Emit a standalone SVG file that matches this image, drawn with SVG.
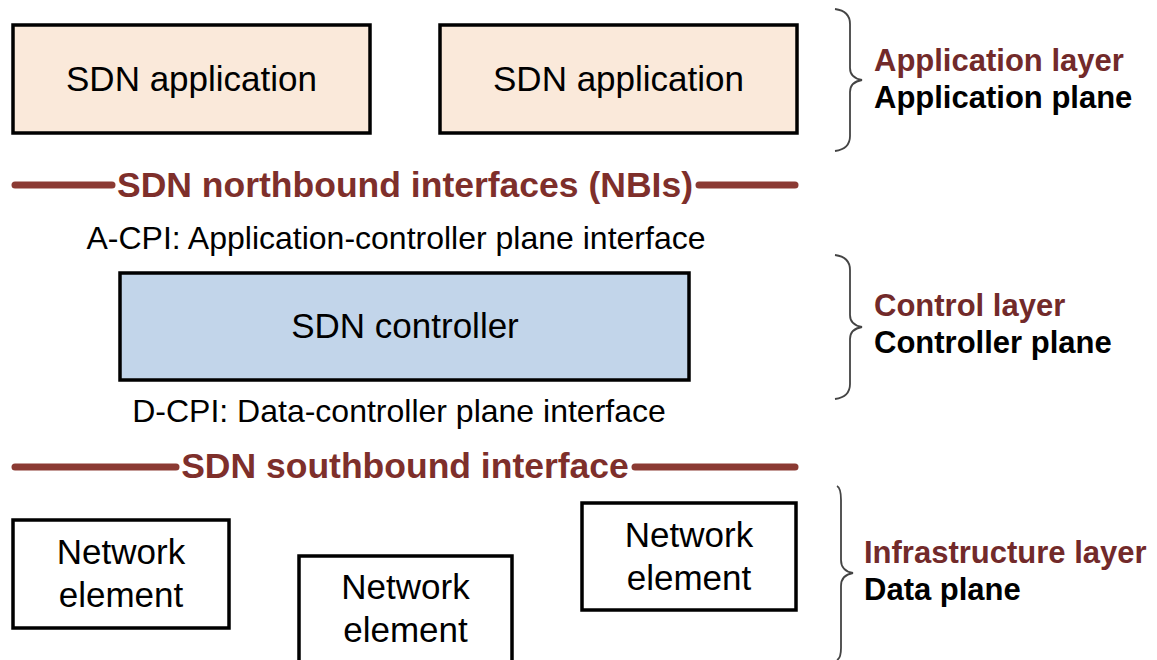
<svg xmlns="http://www.w3.org/2000/svg" width="1157" height="660" viewBox="0 0 1157 660">
<style>
.box{stroke:#000;stroke-width:3.5}
.app{fill:#FAE9DA}
.ctl{fill:#C2D5EA}
.ne{fill:#fff}
.t{font-family:"Liberation Sans",Arial,sans-serif;font-size:35px;fill:#000;text-anchor:middle}
.s{font-family:"Liberation Sans",Arial,sans-serif;font-size:32px;fill:#000;text-anchor:middle}
.bar{stroke:#8B3A33;stroke-width:7;stroke-linecap:round}
.bt{font-family:"Liberation Sans",Arial,sans-serif;font-size:35.5px;font-weight:bold;fill:#7E2F2B;text-anchor:middle}
.lay{font-family:"Liberation Sans",Arial,sans-serif;font-size:31px;font-weight:bold;fill:#722A2A}
.pl{font-family:"Liberation Sans",Arial,sans-serif;font-size:31px;font-weight:bold;fill:#000}
.brace{fill:none;stroke:#444;stroke-width:1.8}
</style>
<rect width="1157" height="660" fill="#fff"/>
<g id="app1"><rect class="box app" x="13" y="25" width="357" height="108"/><text class="t" x="191.5" y="91">SDN application</text></g>
<g id="app2"><rect class="box app" x="440" y="25" width="357" height="108"/><text class="t" x="618.5" y="91">SDN application</text></g>
<g id="nbi"><line class="bar" x1="15" y1="185" x2="112" y2="185"/><line class="bar" x1="699" y1="185" x2="795" y2="185"/><text class="bt" x="405" y="197">SDN northbound interfaces (NBIs)</text></g>
<g id="acpi"><text class="s" x="396" y="249">A-CPI: Application-controller plane interface</text></g>
<g id="controller"><rect class="box ctl" x="120" y="273" width="569" height="107"/><text class="t" x="405" y="338">SDN controller</text></g>
<g id="dcpi"><text class="s" x="399" y="422">D-CPI: Data-controller plane interface</text></g>
<g id="sbi"><line class="bar" x1="15" y1="467" x2="176" y2="467"/><line class="bar" x1="635" y1="467" x2="795" y2="467"/><text class="bt" x="405" y="478">SDN southbound interface</text></g>
<g id="ne1"><rect class="box ne" x="13" y="520" width="216" height="108"/><text class="t" x="121" y="564">Network</text><text class="t" x="121" y="607">element</text></g>
<g id="ne2"><rect class="box ne" x="299" y="556" width="213" height="110"/><text class="t" x="405.5" y="599">Network</text><text class="t" x="405.5" y="642">element</text></g>
<g id="ne3"><rect class="box ne" x="582" y="503" width="214" height="107"/><text class="t" x="689" y="547">Network</text><text class="t" x="689" y="590">element</text></g>
<g id="connectors">
<path class="brace" d="M835,9 Q850,11 850,24 L850,68 Q850,78 862,80 Q850,82 850,92 L850,136 Q850,149 835,151"/>
<path class="brace" d="M835,255 Q850,257 850,270 L850,315 Q850,325 862,327 Q850,329 850,339 L850,384 Q850,397 835,399"/>
<path class="brace" d="M837,486 Q841,488 841,500 L841,560 Q841,571 853,573 Q841,575 841,586 L841,648 Q841,658 837,660"/>
</g>
<g id="label-app"><text class="lay" x="874" y="71">Application layer</text><text class="pl" x="874" y="108">Application plane</text></g>
<g id="label-ctl"><text class="lay" x="874" y="316">Control layer</text><text class="pl" x="874" y="353">Controller plane</text></g>
<g id="label-infra"><text class="lay" x="864" y="563">Infrastructure layer</text><text class="pl" x="864" y="600">Data plane</text></g>
</svg>
